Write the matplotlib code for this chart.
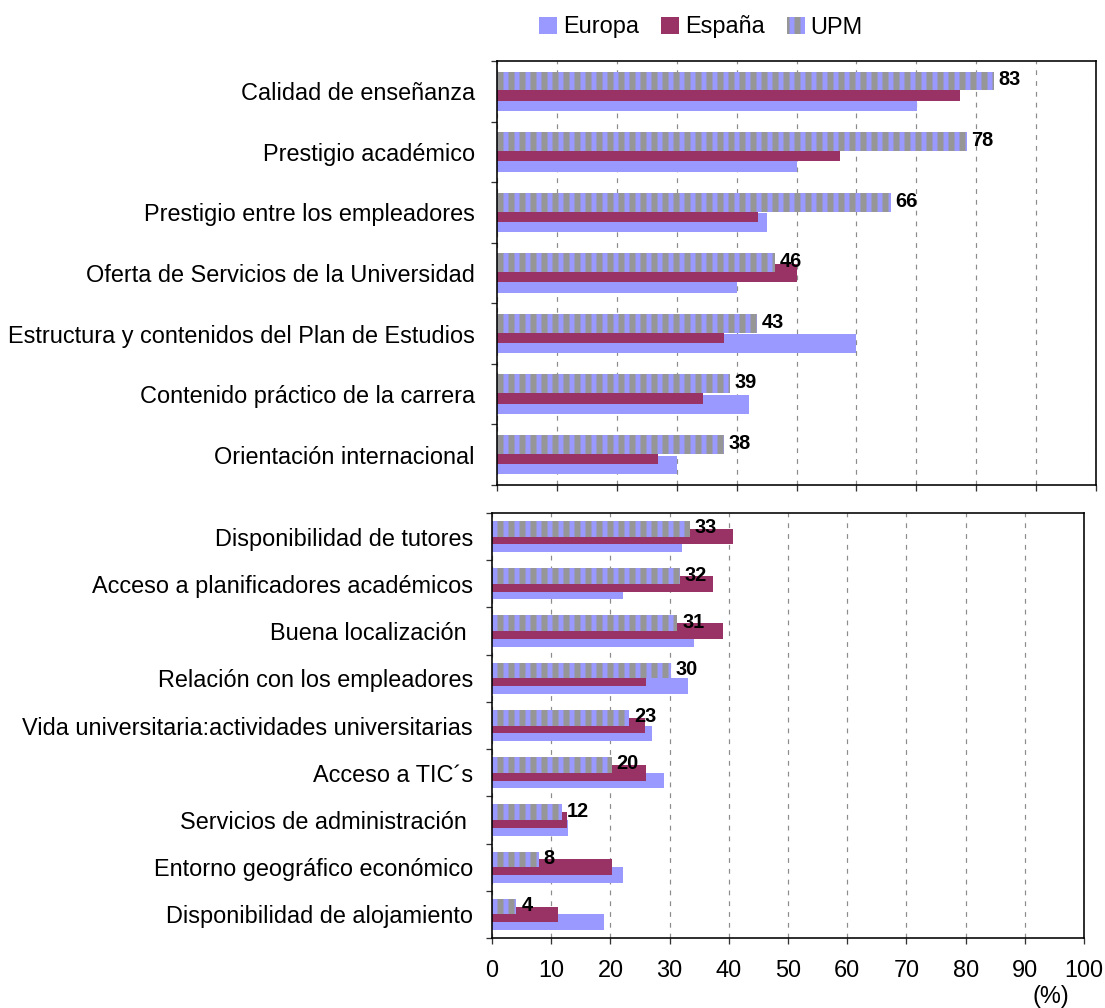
import matplotlib
matplotlib.use('Agg')
import matplotlib.pyplot as plt
from matplotlib.patches import Patch
import numpy as np

DPI = 200 / 3
PT = 72 / DPI


def px(v):
    return v * PT


plt.rcParams['font.family'] = ['Liberation Sans', 'DejaVu Sans']
plt.rcParams['hatch.linewidth'] = px(6)
plt.rcParams['hatch.color'] = '#969696'

# ---------------- data ----------------
cats_top = ["Calidad de enseñanza", "Prestigio académico", "Prestigio entre los empleadores",
            "Oferta de Servicios de la Universidad", "Estructura y contenidos del Plan de Estudios",
            "Contenido práctico de la carrera", "Orientación internacional"]
europa_top = [70.1, 50.1, 45.1, 40.1, 59.9, 42.1, 30.1]
espana_top = [77.3, 57.3, 43.6, 50.1, 37.9, 34.4, 26.9]
upm_top = [82.9, 78.4, 65.7, 46.4, 43.4, 38.9, 37.9]

cats_bot = ["Disponibilidad de tutores", "Acceso a planificadores académicos", "Buena localización ",
            "Relación con los empleadores", "Vida universitaria:actividades universitarias",
            "Acceso a TIC´s", "Servicios de administración ", "Entorno geográfico económico",
            "Disponibilidad de alojamiento"]
europa_bot = [32.1, 22.1, 34.1, 33.1, 27.0, 29.0, 12.9, 22.1, 19.0]
espana_bot = [40.7, 37.3, 39.0, 26.0, 25.8, 26.0, 12.7, 20.2, 11.2]
upm_bot = [33.4, 31.7, 31.3, 30.2, 23.2, 20.2, 11.8, 7.9, 4.1]

series_names = ["Europa", "España", "UPM"]
xticks = list(range(0, 101, 10))

C_EUR = '#9999FF'
C_ESP = '#993366'
C_UPM_BG = '#9999FF'
C_UPM_HATCH = '#969696'

W, H = 1105, 1008
fig = plt.figure(figsize=(W / DPI, H / DPI), dpi=DPI)

FS = px(23.5)
FS_VAL = px(20)


def panel(rect, cats, eur, esp, upm, step, bar_h, show_xlabels, label_pad):
    ax = fig.add_axes(rect)
    n = len(cats)
    y = np.arange(n)
    ax.barh(y + step, eur, height=bar_h, color=C_EUR, linewidth=0, zorder=2)
    ax.barh(y, esp, height=bar_h, color=C_ESP, linewidth=0, zorder=3)
    ax.barh(y - step, upm, height=bar_h, color=C_UPM_BG, edgecolor=C_UPM_HATCH,
            linewidth=0, hatch='|', zorder=4)
    for yi, v in zip(y, upm):
        ax.annotate(f"{round(v)}", xy=(v, yi - step), xytext=(px(5), px(1)),
                    textcoords='offset points', ha='left', va='center',
                    fontsize=FS_VAL, fontweight='bold', color='black', zorder=6)
    ax.set_xlim(0, 100)
    ax.set_ylim(n - 0.5, -0.5)
    ax.set_xticks(xticks)
    if show_xlabels:
        ax.set_xticklabels([str(t) for t in xticks], fontsize=FS)
    else:
        ax.set_xticklabels([])
    ax.tick_params(axis='x', direction='out', length=px(6), width=px(1.3),
                   pad=px(15), color='#333333')
    ax.set_yticks(y)
    ax.set_yticklabels(cats, fontsize=FS)
    ax.tick_params(axis='y', which='major', length=0, pad=label_pad)
    ax.set_yticks(np.arange(n + 1) - 0.5, minor=True)
    ax.tick_params(axis='y', which='minor', direction='out', length=px(6),
                   width=px(1.3), color='#333333')
    ax.xaxis.grid(True, linestyle=(0, (4, 5)), color='#8c8c8c', linewidth=px(1.2))
    ax.set_axisbelow(True)
    for s in ax.spines.values():
        s.set_linewidth(px(1.6))
        s.set_color('black')
        s.set_zorder(7)
    return ax


# top panel: x 497..1096, y 61..485
panel([497 / W, 1 - 485 / H, (1096 - 497) / W, (485 - 61) / H],
      cats_top, europa_top, espana_top, upm_top, 0.17, 0.31, False, px(22))
# bottom panel: x 492..1084, y 513..938
panel([492 / W, 1 - 938 / H, (1084 - 492) / W, (938 - 513) / H],
      cats_bot, europa_bot, espana_bot, upm_bot, 0.165, 0.33, True, px(19))

fig.text(1051 / W, 1 - 997 / H, "(%)", ha='center', va='center', fontsize=FS)

handles = [Patch(facecolor=C_EUR, linewidth=0),
           Patch(facecolor=C_ESP, linewidth=0),
           Patch(facecolor=C_UPM_BG, edgecolor=C_UPM_HATCH, linewidth=0, hatch='|')]
fig.legend(handles, series_names, loc='center', bbox_to_anchor=(701 / W, 1 - 27 / H),
           ncol=3, frameon=False, fontsize=FS, handlelength=0.75, handleheight=0.7,
           handletextpad=0.25, columnspacing=0.95, borderpad=0)

fig.savefig('out.png', dpi=DPI)
